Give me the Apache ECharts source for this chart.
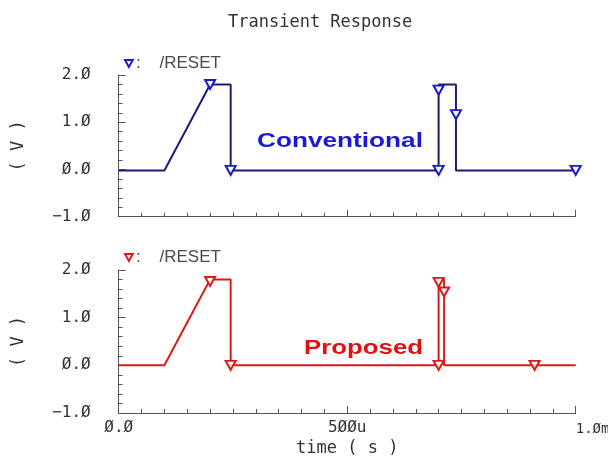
<!DOCTYPE html>
<html>
<head>
<meta charset="utf-8">
<script src="https://cdn.jsdelivr.net/npm/echarts@6/dist/echarts.min.js"></script>
<style>
html,body{margin:0;padding:0;background:#fff;}
#c{width:608px;height:459px;}
</style>
</head>
<body>
<div id="c"></div>
<script>
// ---- data (time in microseconds, voltage in V) ----
const convTime  = [0, 100, 200, 245, 245, 700, 700, 738, 738, 1000];
const convVolt  = [-0.02, -0.02, 1.8, 1.8, -0.02, -0.02, 1.8, 1.8, -0.02, -0.02];
const convMarkTime = [200, 245, 700, 700, 738, 1000];
const convMarkVolt = [1.8, -0.02, 1.68, -0.02, 1.16, -0.02];

const propTime  = [0, 100, 200, 245, 245, 700, 700, 712, 712, 1000];
const propVolt  = [0, 0, 1.8, 1.8, 0, 0, 1.8, 1.8, 0, 0];
const propMarkTime = [200, 245, 700, 700, 712, 910];
const propMarkVolt = [1.76, 0, 1.74, 0, 1.54, 0];

const xTickValues = [0, 500, 1000];
const xTickLabels = ['Ø.Ø', '5ØØu', '1.Øm'];
const yTickValues = [-1, 0, 1, 2];
const yTickLabels = ['−1.Ø', 'Ø.Ø', '1.Ø', '2.Ø'];

const seriesNames = ['Conventional', 'Proposed'];
const legendLabel = '/RESET';
const chartTitle = 'Transient Response';
const xAxisTitle = 'time ( s )';
const yAxisTitle = '( V )';

// ---- helpers ----
const zip = (a, b) => a.map((v, i) => [v, b[i]]);
const tri = 'path://M0,0 L10,0 L5,9 Z';
const monoFont = 'DejaVu Sans Mono';
const axisGray = '#555';
const textGray = '#333';

function xAxis(idx, showLabels) {
  return {
    type: 'value', gridIndex: idx, min: 0, max: 1000, interval: 500,
    name: showLabels ? xAxisTitle : '', nameLocation: 'middle', nameGap: 27,
    nameTextStyle: {fontFamily: monoFont, fontSize: 17, color: textGray},
    axisLine: {show: true, onZero: false, lineStyle: {color: axisGray, width: 1}},
    axisTick: {show: true, inside: true, length: 7, lineStyle: {color: axisGray}},
    minorTick: {show: true, splitNumber: 10, length: 4, lineStyle: {color: axisGray}},
    splitLine: {show: false},
    axisLabel: {
      show: showLabels, margin: 6, fontFamily: monoFont, fontSize: 16, lineHeight: 18, color: textGray,
      alignMaxLabel: 'left',
      rich: {
        n: {fontFamily: monoFont, fontSize: 16, lineHeight: 18, color: textGray},
        m: {fontFamily: monoFont, fontSize: 14, lineHeight: 18, color: textGray, padding: [3, 0, 0, 0]}
      },
      formatter: v => {
        const i = xTickValues.indexOf(v);
        if (i < 0) return '';
        return i === xTickValues.length - 1 ? '{m|' + xTickLabels[i] + '}' : '{n|' + xTickLabels[i] + '}';
      }
    }
  };
}
function yAxis(idx) {
  return {
    type: 'value', gridIndex: idx, min: -1, max: 2, interval: 1,
    name: yAxisTitle, nameLocation: 'middle', nameGap: 92, nameRotate: 90,
    nameTextStyle: {fontFamily: monoFont, fontSize: 17, color: textGray},
    axisLine: {show: true, onZero: false, lineStyle: {color: axisGray, width: 1}},
    axisTick: {show: true, inside: true, length: 7, lineStyle: {color: axisGray}},
    minorTick: {show: true, splitNumber: 5, length: 4, lineStyle: {color: axisGray}},
    splitLine: {show: false},
    axisLabel: {
      margin: 28, fontFamily: monoFont, fontSize: 16, color: textGray,
      padding: [0, 0, 10, 0],
      formatter: v => { const i = yTickValues.indexOf(v); return i >= 0 ? yTickLabels[i] : ''; }
    }
  };
}

const conv = {line: '#1c1c72', mark: '#1a1ad0', text: '#1a1ad6'};
const prop = {line: '#d81c1c', mark: '#e01818', text: '#e41010'};

function legend(name, top, col) {
  return {
    data: [name], left: 124, top: top, icon: tri, itemWidth: 8, itemHeight: 7,
    itemGap: 0, padding: 0,
    formatter: () => ':    ' + legendLabel,
    textStyle: {fontFamily: 'Liberation Sans', fontSize: 17, color: '#4a4a4a', padding: [0, 0, 0, -2]},
    itemStyle: {color: '#ffffff', borderColor: col, borderWidth: 2}
  };
}

const option = {
  animation: false,
  backgroundColor: '#ffffff',
  title: {
    text: chartTitle, left: 223, top: 9,
    textStyle: {fontFamily: monoFont, fontSize: 17, fontWeight: 'normal', color: textGray}
  },
  legend: [legend(seriesNames[0], 55, conv.mark), legend(seriesNames[1], 249, prop.mark)],
  grid: [
    {left: 118.7, right: 32.3, top: 75, height: 141.7, outerBoundsMode: 'none', containLabel: false},
    {left: 118.7, right: 32.3, top: 270, height: 143, outerBoundsMode: 'none', containLabel: false}
  ],
  xAxis: [xAxis(0, false), xAxis(1, true)],
  yAxis: [yAxis(0), yAxis(1)],
  series: [
    {name: seriesNames[0], type: 'line', xAxisIndex: 0, yAxisIndex: 0, data: zip(convTime, convVolt),
     symbol: 'none', lineStyle: {color: conv.line, width: 2}, itemStyle: {color: conv.line}},
    {name: seriesNames[0], type: 'scatter', xAxisIndex: 0, yAxisIndex: 0, data: zip(convMarkTime, convMarkVolt),
     symbol: tri, symbolSize: [10, 9], z: 5,
     itemStyle: {color: '#ffffff', borderColor: conv.mark, borderWidth: 2, opacity: 1}},
    {name: seriesNames[1], type: 'line', xAxisIndex: 1, yAxisIndex: 1, data: zip(propTime, propVolt),
     symbol: 'none', lineStyle: {color: prop.line, width: 2}, itemStyle: {color: prop.line}},
    {name: seriesNames[1], type: 'scatter', xAxisIndex: 1, yAxisIndex: 1, data: zip(propMarkTime, propMarkVolt),
     symbol: tri, symbolSize: [10, 9], z: 5,
     itemStyle: {color: '#ffffff', borderColor: prop.mark, borderWidth: 2, opacity: 1}}
  ],
  graphic: [
    {type: 'text', x: 257, y: 141, scaleX: 1.31, z: 10,
     style: {text: seriesNames[0], font: 'bold 20px "Liberation Sans"', fill: conv.text, verticalAlign: 'middle'}},
    {type: 'text', x: 304, y: 348, scaleX: 1.29, z: 10,
     style: {text: seriesNames[1], font: 'bold 20px "Liberation Sans"', fill: prop.text, verticalAlign: 'middle'}}
  ]
};

const chart = echarts.init(document.getElementById('c'), null, {renderer: 'canvas'});
chart.setOption(option);
</script>
</body>
</html>
